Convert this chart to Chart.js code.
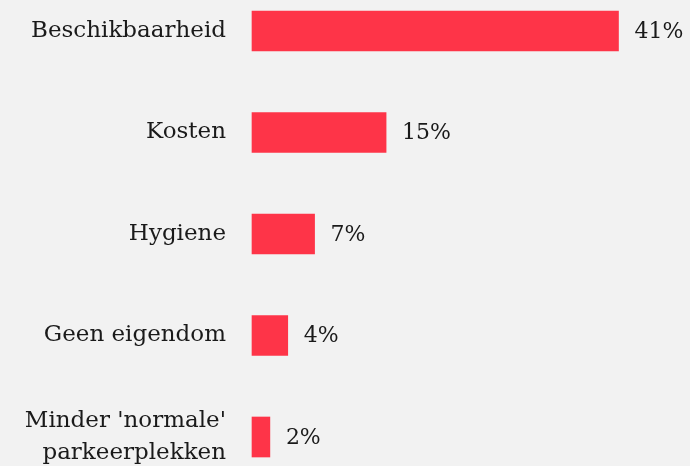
<!DOCTYPE html>
<html lang="nl">
<head>
  <meta charset="UTF-8" />
  <title>Beschikbaarheid</title>
  <script src="https://cdn.jsdelivr.net/npm/chart.js"></script>
  <style>
    html, body {
      margin: 0;
      padding: 0;
      background: #f2f2f2;
    }
    #wrap {
      width: 690px;
      height: 466px;
    }
  </style>
</head>
<body>
  <div id="wrap"><canvas id="chart"></canvas></div>

  <script>
    const categories = [
      'Beschikbaarheid',
      'Kosten',
      'Hygiene',
      'Geen eigendom',
      ["Minder 'normale'", 'parkeerplekken']
    ];
    const percentages = [41, 15, 7, 4, 2];

    const FONT = '"DejaVu Serif", serif';

    // draws "41%" etc. right of each bar
    const valueLabels = {
      id: 'valueLabels',
      afterDatasetsDraw(chart) {
        const ctx = chart.ctx;
        const meta = chart.getDatasetMeta(0);
        ctx.save();
        ctx.font = '22px ' + FONT;
        ctx.fillStyle = '#1a1a1a';
        ctx.textAlign = 'left';
        ctx.textBaseline = 'middle';
        meta.data.forEach((bar, i) => {
          ctx.fillText(percentages[i] + '%', bar.x + 16, bar.y + 1);
        });
        ctx.restore();
      }
    };

    new Chart(document.getElementById('chart'), {
      type: 'bar',
      data: {
        labels: categories,
        datasets: [{
          data: percentages,
          backgroundColor: '#fe3448',
          barThickness: 40,
          clip: false
        }]
      },
      options: {
        indexAxis: 'y',
        responsive: true,
        maintainAspectRatio: false,
        animation: false,
        layout: { padding: { top: 31, bottom: 29, right: 0, left: 0 } },
        plugins: {
          legend: { display: false },
          tooltip: { enabled: false }
        },
        scales: {
          x: {
            display: false,
            min: 0,
            max: 49
          },
          y: {
            offset: false,
            grid: { display: false, drawTicks: false },
            border: { display: false },
            afterFit: (s) => {
              s.width = 252;
              s.paddingTop = 0;
              s.paddingBottom = 0;
            },
            ticks: {
              padding: 26,
              color: '#1a1a1a',
              font: { family: FONT, size: 23, lineHeight: 1.4 }
            }
          }
        }
      },
      plugins: [valueLabels]
    });
  </script>
</body>
</html>
